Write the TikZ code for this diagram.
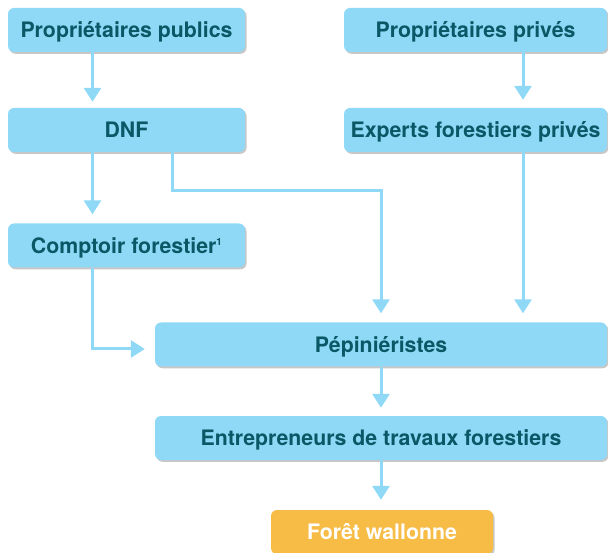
\documentclass[tikz,border=0pt]{standalone}
\usepackage{fontspec}
\setmainfont{TeX Gyre Heros}
\usetikzlibrary{arrows.meta,shadows}
\definecolor{boxblue}{HTML}{8FD9F7}
\definecolor{txtteal}{HTML}{0A5866}
\definecolor{boxorange}{HTML}{F7BC45}
\tikzset{
  box/.style={rectangle, rounded corners=6pt, fill=boxblue, text=txtteal,
    font=\fontsize{21.3}{25}\selectfont\bfseries, inner sep=0pt,
    text height=16.3pt, text depth=1pt,
    drop shadow={shadow xshift=1.5pt, shadow yshift=-1.8pt, fill=black, opacity=0.22}},
  obox/.style={box, fill=boxorange, text=white},
  arr/.style={draw=boxblue, line width=3pt, -{Triangle[width=17pt,length=14pt]}},
}
\newcommand{\supone}{\raisebox{8pt}{\fontsize{10}{10}\selectfont 1}}
\begin{document}
\begin{tikzpicture}[x=1pt,y=-1pt]
\useasboundingbox (0,0) rectangle (608,553);
% nodes
\node[box, minimum width=237pt, minimum height=44pt] (pp) at (126.5,30) {Propriétaires publics};
\node[box, minimum width=237pt, minimum height=44pt] (dnf) at (126.5,130) {DNF};
\node[box, minimum width=237pt, minimum height=44pt] (cf) at (126.5,245.5) {Comptoir forestier\supone};
\node[box, minimum width=263pt, minimum height=44pt] (prv) at (475.5,30) {Propriétaires privés};
\node[box, minimum width=263pt, minimum height=44pt] (exp) at (475.5,130) {Experts forestiers privés};
\node[box, minimum width=452pt, minimum height=44pt] (pep) at (381,344.5) {Pépiniéristes};
\node[box, minimum width=452pt, minimum height=44pt] (ent) at (381,438) {Entrepreneurs de travaux forestiers};
\node[obox, minimum width=222pt, minimum height=44pt] (for) at (382,532) {Forêt wallonne};
% connectors
\coordinate (a1) at ([xshift=-34pt]pp.south);
\draw[arr, shorten >=6pt] (a1) -- (a1 |- dnf.north);
\coordinate (a2) at ([xshift=-34pt]dnf.south);
\draw[arr, shorten >=9pt] (a2) -- (a2 |- cf.north);
\coordinate (a3) at ([xshift=47.5pt]prv.south);
\draw[arr, shorten >=8pt] (a3) -- (a3 |- exp.north);
\coordinate (a4) at ([xshift=46pt]dnf.south);
\coordinate (k1) at (381,191);
\draw[arr, shorten >=9pt] (a4) |- (k1) -- (pep.north);
\coordinate (a5) at ([xshift=47.5pt]exp.south);
\draw[arr, shorten >=9pt] (a5) -- (a5 |- pep.north);
\coordinate (a6) at ([xshift=-34pt]cf.south);
\coordinate (p1) at ([yshift=-4.5pt]pep.west);
\draw[arr, shorten >=10pt] (a6) |- (p1);
\draw[arr, shorten >=8pt] (pep.south) -- (ent.north);
\draw[arr, shorten >=10pt] (ent.south) -- (ent.south |- for.north);
\end{tikzpicture}
\end{document}
